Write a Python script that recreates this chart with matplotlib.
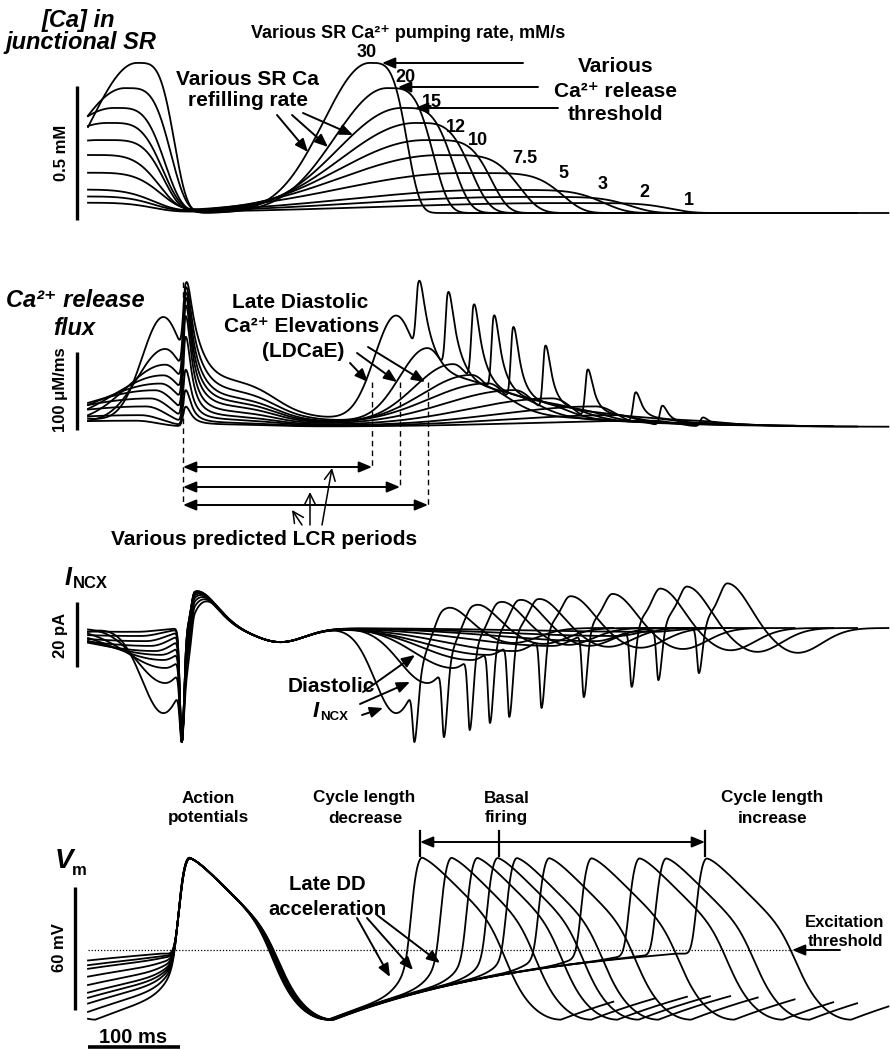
import numpy as np
import matplotlib.pyplot as plt

plt.rcParams['font.family'] = ['Liberation Sans', 'DejaVu Sans']
plt.rcParams['font.weight'] = 'bold'

# one simulated trace per SR Ca pumping rate (mM/s)
rates = ['30', '20', '15', '12', '10', '7.5', '5', '3', '2', '1']

# AP peak times and trace ends, ms from the start of the traces
ap1_peak = 111
ap2_peak = [364, 396, 424, 446, 467, 502, 548, 600, 629, 673]
trace_end = [571, 616, 651, 676, 698, 728, 768, 810, 836, 870]
apd_shift = [0, 1, 1.5, 2.5, 3, 3.5, 4.5, 5, 5.5, 6.5]

# junctional SR [Ca], mM: refilling hump ending in each release
ca_min = 0.10
ca_amp = [0.56, 0.466, 0.392, 0.336, 0.272, 0.216, 0.149, 0.086, 0.06, 0.037]
ca_lag = [-58, -71, -83, -90, -101, -120, -143, -163, -160, -160]
ca_rise = [71, 80, 98, 114, 130, 152, 185, 217, 250, 283]
ca_fall = [44, 54, 60, 65, 76, 91, 115, 128, 125, 124]
ca_edge = [4, 4, 4, 4, 5, 5, 6, 6, 6, 6]

# Ca release flux, uM/ms
flux_spike1 = [178, 174, 169, 163, 154, 141, 115, 73, 47, 26]
flux_spike2 = [178, 167, 153, 140, 126, 103, 73, 44, 27, 12]
lcr_amp = [135, 96, 77, 64, 54, 46, 36, 26, 15, 8]
lcr_lag = [-24, -22, -22, -24, -27, -33, -38, -43, -49, -54]
lcr_width = [33, 43, 60, 76, 92, 109, 130, 152, 174, 196]
flux_tail = [60, 47, 38, 32, 26, 19, 13, 9, 5, 3]

# I_NCX, pA relative to the diastolic level
ncx_dip = [26.6, 17.2, 12.5, 10, 8.4, 7.2, 5.6, 4.1, 2.5, 1.2]
ncx_spike1 = 35.6
ncx_spike2 = [35.6, 34.1, 31.9, 29.7, 27.8, 25, 21.6, 18.4, 16.3, 14.1]
ncx_peak1 = [14, 13.7, 13.4, 13.1, 12.8, 12.5, 12.2, 11.9, 11.6, 11.2]
ncx_peak2 = [8.1, 8.8, 9.4, 9.7, 9.7, 10.3, 10.9, 12.5, 13.1, 14.1]
ncx_trough1 = 4.4
ncx_trough2 = [4.7, 5, 5.3, 5.6, 5.9, 6.2, 6.6, 7, 7.5, 7.8]

# Vm, mV
v_peak, v_mdp, v_thr = 7.5, -74, -40

W, H = 890, 1050
X0, PX_MS = 88, 0.92
SUP = '\u00b2\u207a'


def sig(x):
    return 1 / (1 + np.exp(-np.clip(x, -60, 60)))


def hump(t, c, wl, wr, p=2):
    s = np.asarray(t, float) - c
    return np.where(s < 0, np.exp(-(s / wl) ** 2), np.exp(-np.abs(s / wr) ** p))


def after_ap(s, shift=0):
    top = v_peak - 0.45 * 8 * np.logaddexp(0, s / 8) - 0.12 * np.minimum(s, 0) ** 2
    r = s - shift
    dd = np.where(r < 150, v_mdp + 0.006 * (150 - r) ** 2,
                  v_mdp + 40 * (1 - np.exp(-(r - 150) / 230)))
    w = sig(-(r - 86) / 10)
    return dd + (top - dd) * w


def vm_trace(t, aps, shift):
    v = after_ap(t - aps[0], shift)
    for a in aps[1:]:
        tu = a - 14
        dv = v_thr - np.interp(tu, t, v)
        pre = v + dv * np.exp(np.clip((t - tu) / 12, -60, 1))
        u = sig((t - tu) / 3)
        v = (1 - u) * pre + u * after_ap(t - a, shift)
    return v


def ca_trace(t, aps, i):
    c = np.full_like(t, ca_min)
    for a in aps:
        c += ca_amp[i] * hump(t, a + ca_lag[i], ca_rise[i], ca_fall[i], ca_edge[i])
    return c


def flux_trace(t, aps, i):
    f = np.zeros_like(t)
    for a, h in zip(aps, [flux_spike1[i], flux_spike1[i], flux_spike2[i]]):
        ts = a - 5

        def slow(x):
            lcr = lcr_amp[i] * hump(x, ts + lcr_lag[i], lcr_width[i], 33)
            decay = 0.72 * sig(-(x - ts - 98) / 16) + 0.28 * np.exp(-np.maximum(x - ts, 0) / 220)
            return lcr + flux_tail[i] * sig((x - ts) / 2) * decay

        s = t - ts
        spike = np.where(s < 0, np.exp(-(s / 3.5) ** 2), 1 / (1 + (s / 7) ** 2))
        f += slow(t) + (h - slow(ts)) * spike
    return f


def ncx_trace(t, aps, i):
    c1 = (ncx_spike1, 3.5, ncx_peak1[i], 5, 5, ncx_trough1)
    c2 = (ncx_spike2[i], 5, ncx_peak2[i], 22, 12, ncx_trough2[i])
    v = np.zeros_like(t)
    for a, (depth, back, peak, delay, rise, trough) in zip(aps, [c1, c1, c2]):
        ts = a - 9

        def slow(x):
            dip = -ncx_dip[i] * hump(x, a - 5 + lcr_lag[i], lcr_width[i], 33)
            up = 0.3 * sig((x - a) / 2) + 0.7 * np.exp(-(np.minimum(x - a - delay, 0) / rise) ** 2)
            down = np.exp(-(np.maximum(x - a - delay, 0) / 32) ** 2)
            return dip + peak * up * down - trough * np.exp(-((x - a - 98) / 38) ** 2)

        s = t - ts
        spike = np.where(s < 0, np.exp(-(s / 3) ** 2), np.exp(-(s / back) ** 2))
        v += slow(t) + (-depth - slow(ts)) * spike
    return v


def px_span(v_ref, y_ref, px_per_unit):
    return v_ref - (H - y_ref) / px_per_unit, v_ref + y_ref / px_per_unit


fig = plt.figure(figsize=(W / 100, H / 100), dpi=100)


def panel(ylim):
    ax = fig.add_axes([0, 0, 1, 1])
    ax.set_xlim(-X0 / PX_MS, (W - X0) / PX_MS)
    ax.set_ylim(*ylim)
    ax.axis('off')
    return ax


ax_ca = panel(px_span(ca_min, 213, 268))
ax_fl = panel(px_span(0, 427, 0.78))
ax_nc = panel(px_span(0, 628, 3.2))
ax_vm = panel(px_span(v_thr, 950, 2.05))

t = np.arange(0, 872, 0.25)
for i in range(len(rates)):
    aps = [2 * ap1_peak - ap2_peak[i], ap1_peak, ap2_peak[i]]
    m = t <= trace_end[i]
    ax_ca.plot(t[m], ca_trace(t, aps, i)[m], color='k', lw=1.3)
    ax_fl.plot(t[m], flux_trace(t, aps, i)[m], color='k', lw=1.3)
    ax_nc.plot(t[m], ncx_trace(t, aps, i)[m], color='k', lw=1.3)
    ax_vm.plot(t[m], vm_trace(t, aps, apd_shift[i])[m], color='k', lw=1.3)

# annotation layer in pixel coordinates
ov = fig.add_axes([0, 0, 1, 1])
ov.set_xlim(0, W)
ov.set_ylim(H, 0)
ov.axis('off')


def note(x, y, s, size=15, style='normal', ha='center', va='baseline', rot=0):
    ov.text(x, y, s, fontsize=size, fontstyle=style, fontweight='bold',
            ha=ha, va=va, rotation=rot)


def arrow(x0, y0, x1, y1, style='-|>,head_length=0.6,head_width=0.25', lw=1.4):
    ov.annotate('', xy=(x1, y1), xytext=(x0, y0),
                arrowprops=dict(arrowstyle=style, color='k', lw=lw,
                                mutation_scale=13, shrinkA=0, shrinkB=0))


def bar(x0, y0, x1, y1, lw=2.4):
    ov.plot([x0, x1], [y0, y1], color='k', lw=lw, solid_capstyle='butt')


# panel 1: junctional SR Ca
note(78, 27, '[Ca] in', 17, 'italic')
note(81, 49, 'junctional SR', 17, 'italic')
note(408, 38, 'Various SR Ca' + SUP + ' pumping rate, mM/s', 13)
for lab, x, y in zip(rates, [367, 405, 432, 456, 478, 525, 563, 603, 644, 689],
                     [57, 82, 107, 132, 145, 163, 178, 189, 197, 205]):
    note(x, y, lab, 13)
note(247, 85, 'Various SR Ca', 15)
note(248, 106, 'refilling rate', 15)
note(616, 72, 'Various', 15)
note(615, 97, 'Ca' + SUP + ' release', 15)
note(616, 120, 'threshold', 15)
arrow(523, 63, 382, 63)
arrow(538, 87, 398, 87)
arrow(558, 108, 415, 108)
arrow(277, 115, 308, 152)
arrow(292, 115, 328, 147)
arrow(303, 113, 353, 135)
bar(77, 86, 77, 220)
note(61, 153, '0.5 mM', 12, va='center', rot=90)

# panel 2: Ca release flux
note(75, 307, 'Ca' + SUP + ' release', 17, 'italic')
note(74, 335, 'flux', 17, 'italic')
note(300, 308, 'Late Diastolic', 15)
note(302, 332, 'Ca' + SUP + ' Elevations', 15)
note(303, 357, '(LDCaE)', 15)
arrow(350, 363, 368, 382)
arrow(357, 353, 397, 382)
arrow(368, 347, 425, 382)
for x, y0, y1 in [(183, 282, 505), (372, 382, 467), (400, 382, 487), (428, 382, 505)]:
    ov.plot([x, x], [y0, y1], color='k', lw=1.0, ls=(0, (4, 3)))
for y, x1 in [(467, 372), (487, 400), (505, 428)]:
    arrow(183, y, x1, y, style='<|-|>,head_length=0.6,head_width=0.25')
arrow(302, 525, 292, 510, style='->,head_length=0.6,head_width=0.3', lw=1.1)
arrow(310, 525, 310, 492, style='->,head_length=0.6,head_width=0.3', lw=1.1)
arrow(322, 525, 332, 468, style='->,head_length=0.6,head_width=0.3', lw=1.1)
note(264, 545, 'Various predicted LCR periods', 15)
bar(77, 352, 77, 430)
note(61, 390, '100 \u03bcM/ms', 12, va='center', rot=90)

# panel 3: I_NCX
note(65, 585, 'I', 18, 'italic', ha='left')
note(73, 588, 'NCX', 12, ha='left')
note(331, 692, 'Diastolic', 15)
note(313, 717, 'I', 16, 'italic', ha='left')
note(320, 720, 'NCX', 9.5, ha='left')
arrow(363, 692, 415, 655)
arrow(360, 704, 410, 682)
arrow(362, 715, 383, 708)
bar(77, 602, 77, 667)
note(61, 635, '20 pA', 12, va='center', rot=90)

# panel 4: Vm
note(208, 803, 'Action', 12.3)
note(208, 822, 'potentials', 12.3)
note(364, 802, 'Cycle length', 12.3)
note(365, 823, 'decrease', 12.3)
note(507, 803, 'Basal', 12.3)
note(506, 822, 'firing', 12.3)
note(772, 802, 'Cycle length', 12.3)
note(773, 823, 'increase', 12.3)
arrow(420, 842, 705, 842, style='<|-|>,head_length=0.6,head_width=0.25')
for x in [420, 499, 705]:
    ov.plot([x, x], [831, 856], color='k', lw=1.6)
note(55, 868, 'V', 20, 'italic', ha='left')
note(72, 875, 'm', 12, ha='left')
note(327, 890, 'Late DD', 14.6)
note(327, 915, 'acceleration', 14.6)
arrow(357, 918, 390, 977)
arrow(367, 918, 413, 970)
arrow(377, 915, 440, 963)
ov.plot([88, 792], [950, 950], color='k', lw=0.9, ls=(0, (1, 1.5)))
arrow(840, 950, 792, 950)
note(845, 927, 'Excitation', 12)
note(845, 946, 'threshold', 12)
bar(75, 887, 75, 1010)
note(60, 948, '60 mV', 12, va='center', rot=90)
bar(88, 1047, 180, 1047, lw=2.6)
note(133, 1043, '100 ms', 14.5)

fig.savefig('out.png', dpi=100)
